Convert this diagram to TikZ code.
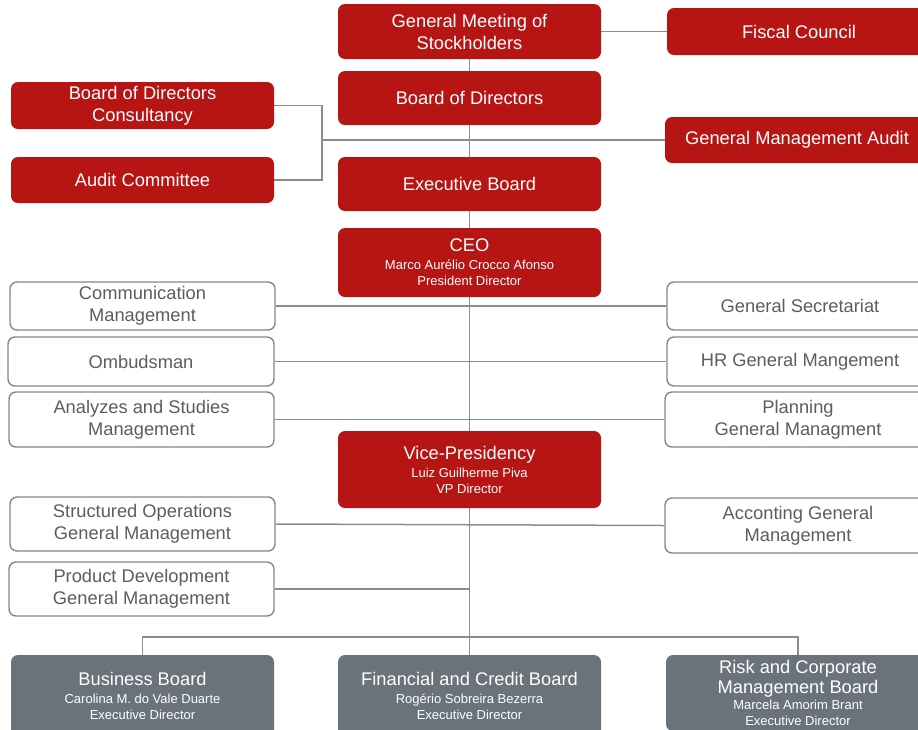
\documentclass[tikz,border=0pt]{standalone}
\usepackage{fontspec}
\setmainfont{Liberation Sans}
\usetikzlibrary{backgrounds}
\definecolor{cred}{RGB}{183,20,20}
\definecolor{cgray}{RGB}{106,114,122}
\definecolor{cborder}{RGB}{128,136,145}
\definecolor{ctext}{RGB}{89,94,100}
\definecolor{cline}{RGB}{140,140,140}
\newcommand{\bigf}{\fontsize{18.3}{22}\selectfont}
\newcommand{\smallf}{\fontsize{13}{15}\selectfont}
\begin{document}
\begin{tikzpicture}[x=1pt,y=-1pt,
  sz/.style 2 args={minimum width=#1pt, minimum height=#2pt},
  box/.style={rounded corners=7pt, inner sep=0pt, align=center, font=\bigf},
  redbox/.style={box, fill=cred, text=white},
  outbox/.style={box, draw=cborder, line width=1.4pt, fill=white, text=ctext},
  graybox/.style={box, fill=cgray, text=white},
  conn/.style={draw=cline, line width=1.5pt}]
\useasboundingbox (0,0) rectangle (918,729);
% red boxes
\node[redbox, sz={263}{55}] (gm) at (469.5,31.5) {General Meeting of\\Stockholders};
\node[redbox, sz={264}{47}] (fc) at (799,31.5) {Fiscal Council};
\node[redbox, sz={263}{54}] (bod) at (469.5,98) {Board of Directors};
\node[redbox, sz={263}{54}] (exb) at (469.5,184) {Executive Board};
\node[redbox, sz={263}{47}] (bodc) at (142.5,105.5) {Board of Directors\\Consultancy};
\node[redbox, sz={263}{46}] (ac) at (142.5,180) {Audit Committee};
\node[redbox, sz={264}{46}] (gma) at (797,140) {General Management Audit};
\node[redbox, sz={263}{69}] (ceo) at (469.5,262.5) {CEO\\[-4pt]\smallf Marco Aurélio Crocco Afonso\\[-6pt]\smallf President Director};
\node[redbox, sz={263}{77}] (vp) at (469.5,469.5) {Vice-Presidency\\[-4pt]\smallf Luiz Guilherme Piva\\[-6pt]\smallf VP Director};
% outline boxes
\node[outbox, sz={265}{48}] (comm) at (142.5,306) {Communication\\Management};
\node[outbox, sz={266}{48}] (gsec) at (800,306) {General Secretariat};
\node[outbox, sz={266}{49}] (omb) at (141,361.5) {Ombudsman};
\node[outbox, sz={266}{49}] (hr) at (800,361.5) {HR General Mangement};
\node[outbox, sz={265}{55}] (ana) at (141.5,419.5) {Analyzes and Studies\\Management};
\node[outbox, sz={266}{55}] (plan) at (798,419.5) {Planning\\General Managment};
\node[outbox, sz={265}{54}] (so) at (142.5,524) {Structured Operations\\General Management};
\node[outbox, sz={266}{55}] (acc) at (798,525.5) {Acconting General\\Management};
\node[outbox, sz={265}{54}] (pd) at (141.5,589) {Product Development\\General Management};
% gray boards
\node[graybox, sz={263}{82}] (bb) at (142.5,696) {Business Board\\[-4pt]\smallf Carolina M. do Vale Duarte\\[-6pt]\smallf Executive Director};
\node[graybox, sz={263}{82}] (fin) at (469.5,696) {Financial and Credit Board\\[-4pt]\smallf Rogério Sobreira Bezerra\\[-6pt]\smallf Executive Director};
\node[graybox, sz={264}{76}] (rk) at (798,693) {Risk and Corporate\\[-2.5pt]Management Board\\[-5.5pt]\smallf Marcela Amorim Brant\\[-6.5pt]\smallf Executive Director};
\coordinate (j) at (322,140);
\coordinate (bus) at (469.5,637);
\begin{pgfonlayer}{background}
\draw[conn] (gm.south) -- (fin.north);
\draw[conn] (gm.east) -- (fc.west);
\draw[conn] (bodc.east) -| (j) |- (ac.east);
\draw[conn] (j) -- (gma.west);
\draw[conn] (comm.east) -- (gsec.west);
\draw[conn] (omb.east) -- (hr.west);
\draw[conn] (ana.east) -- (plan.west);
\draw[conn] (so.east) -- (acc.west);
\draw[conn] (pd.east) -- (pd.east -| gm.south);
\draw[conn] (bb.north) |- (bus) -| (rk.north);
\end{pgfonlayer}
\end{tikzpicture}
\end{document}
